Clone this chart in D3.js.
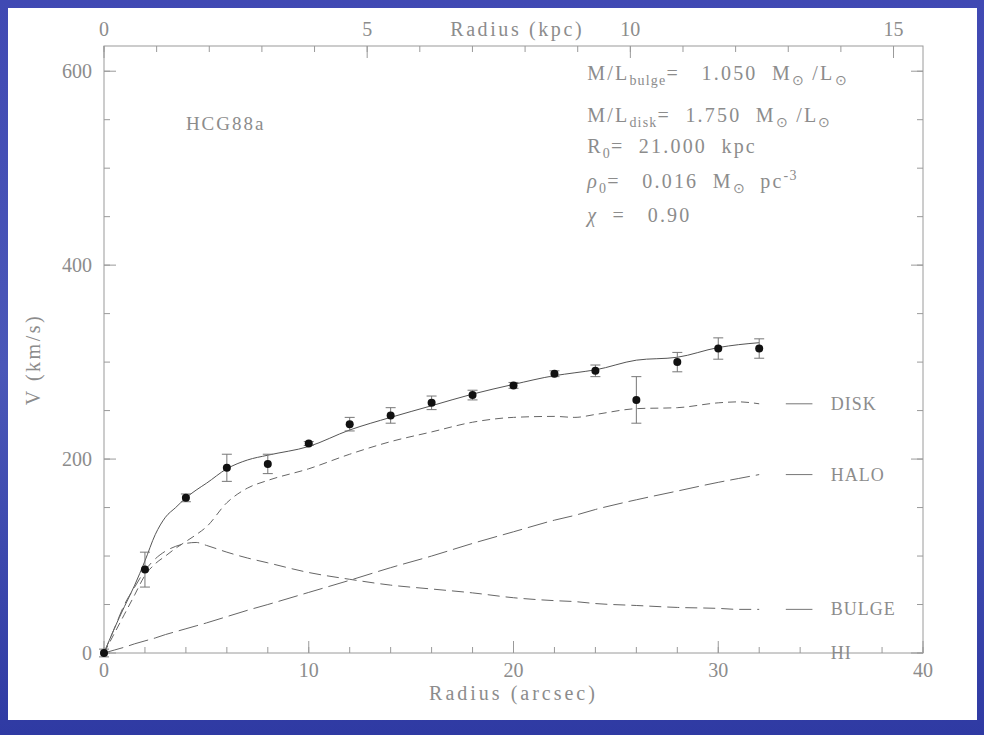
<!DOCTYPE html>
<html>
<head>
<meta charset="utf-8">
<script src="https://cdn.jsdelivr.net/npm/d3@7"></script>
<style>
  body { margin: 0; background: #3d45ab; }
  text { font-family: "Liberation Serif", serif; fill: #8c8c8c; white-space: pre; }
</style>
</head>
<body>
<div id="chart"></div>
<script>
// observed rotation curve (arcsec, km/s, error)
const obsR = [0, 2, 4, 6, 8, 10, 12, 14, 16, 18, 20, 22, 24, 26, 28, 30, 32];
const obsV = [0, 86, 160, 191, 195, 216, 236, 245, 258, 266, 276, 288, 291, 261, 300, 314, 314];
const obsErr = [4, 18, 4, 14, 10, 2, 7, 8, 7, 5, 3, 3, 6, 24, 10, 11, 10];

// model components
const modR = [0, 0.5, 1, 1.5, 2, 2.5, 3, 3.5, 4, 4.5, 5, 6, 7, 8, 10, 12, 14, 16, 18, 20, 22, 23, 24, 26, 28, 30, 31, 32];
const totalV = [0, 25, 48, 70, 95, 122, 140, 150, 160, 168, 175, 190, 199, 204, 213, 230, 243, 255, 267, 277, 286, 289, 292, 302, 305, 315, 318, 320];
const diskV  = [0, 20, 40, 60, 80, 92, 100, 108, 115, 122, 130, 155, 170, 178, 190, 205, 218, 228, 238, 243, 244, 243, 246, 252, 253, 258, 259, 257];
const bulgeV = [0, 25, 50, 68, 85, 97, 105, 110, 113, 114, 111, 104, 98, 93, 83, 76, 70, 66, 62, 57, 54, 53, 51, 49, 47, 46, 45, 45];
const haloV  = [0, 3, 6, 9.5, 12.5, 15.5, 19, 22, 25, 28, 31, 37.5, 44, 50, 62.5, 75, 88, 100, 113, 125, 137, 142, 148, 158, 167, 176, 180, 184];
const hiV    = modR.map(() => 0);

const components = [
  { name: "DISK",  values: diskV,  dash: "8,5" },
  { name: "HALO",  values: haloV,  dash: "20,6" },
  { name: "BULGE", values: bulgeV, dash: "12,6" },
  { name: "HI",    values: hiV,    dash: "none" }
];

const xTicks = [0, 10, 20, 30, 40];
const yTicks = [0, 200, 400, 600];
const kpcTicks = [0, 5, 10, 15];
const kpcPerArcsec = 0.389;

const width = 984, height = 735;
const margin = { top: 46, right: 61, bottom: 82, left: 104 };

const svg = d3.select("#chart").append("svg")
  .attr("width", width).attr("height", height);

// blue frame + white panel
const grad = svg.append("defs").append("linearGradient")
  .attr("id", "bg").attr("x1", 0).attr("y1", 0).attr("x2", 0).attr("y2", 1);
grad.append("stop").attr("offset", 0).attr("stop-color", "#4049b3");
grad.append("stop").attr("offset", 0.5).attr("stop-color", "#4a57b8");
grad.append("stop").attr("offset", 1).attr("stop-color", "#2f3aa3");
svg.append("rect").attr("width", width).attr("height", height).attr("fill", "url(#bg)");
svg.append("rect").attr("x", 8).attr("y", 8).attr("width", 969).attr("height", 712).attr("fill", "#fff");

const x = d3.scaleLinear().domain([0, 40]).range([margin.left, width - margin.right]);
const y = d3.scaleLinear().domain([0, 626]).range([height - margin.bottom, margin.top]);
const xk = d3.scaleLinear().domain([0, 40 * kpcPerArcsec]).range(x.range());

const axisCol = "#9a9a9a";
const x0 = x.range()[0], x1 = x.range()[1], y0 = y.range()[0], y1 = y.range()[1];

// frame
svg.append("rect").attr("x", x0).attr("y", y1).attr("width", x1 - x0).attr("height", y0 - y1)
  .attr("fill", "none").attr("stroke", axisCol).attr("stroke-width", 1);

// inward ticks
function ticks(vals, len, fn) {
  vals.forEach(v => {
    const t = fn(v, len);
    svg.append("line").attr("x1", t[0]).attr("y1", t[1]).attr("x2", t[2]).attr("y2", t[3])
      .attr("stroke", axisCol).attr("stroke-width", 1);
  });
}
const xMinor = d3.range(0, 41, 2), yMinor = d3.range(0, 626, 50), kMinor = d3.range(0, 16, 1);
ticks(xMinor, 6, (v, l) => [x(v), y0, x(v), y0 - l]);
ticks(xTicks, 12, (v, l) => [x(v), y0, x(v), y0 - l]);
ticks(kMinor, 6, (v, l) => [xk(v), y1, xk(v), y1 + l]);
ticks(kpcTicks, 12, (v, l) => [xk(v), y1, xk(v), y1 + l]);
ticks(yMinor, 6, (v, l) => [x0, y(v), x0 + l, y(v)]);
ticks(yTicks, 12, (v, l) => [x0, y(v), x0 + l, y(v)]);
ticks(yMinor, 6, (v, l) => [x1, y(v), x1 - l, y(v)]);
ticks(yTicks, 12, (v, l) => [x1, y(v), x1 - l, y(v)]);

// tick labels
svg.selectAll(".xl").data(xTicks).enter().append("text")
  .attr("x", d => x(d)).attr("y", y0 + 24).attr("text-anchor", "middle")
  .attr("font-size", 20).text(d => d);
svg.selectAll(".yl").data(yTicks).enter().append("text")
  .attr("x", x0 - 12).attr("y", d => y(d) + 7).attr("text-anchor", "end")
  .attr("font-size", 20).text(d => d);
svg.selectAll(".kl").data(kpcTicks).enter().append("text")
  .attr("x", d => xk(d)).attr("y", y1 - 10).attr("text-anchor", "middle")
  .attr("font-size", 20).text(d => d);

svg.append("text").attr("x", (x0 + x1) / 2).attr("y", y0 + 47).attr("text-anchor", "middle")
  .attr("font-size", 20).attr("letter-spacing", 3).text("Radius (arcsec)");
svg.append("text").attr("x", xk(7.85)).attr("y", y1 - 10).attr("text-anchor", "middle")
  .attr("font-size", 20).attr("letter-spacing", 2.6).text("Radius (kpc)");
svg.append("text").attr("transform", `translate(40,${(y0 + y1) / 2 + 10}) rotate(-90)`)
  .attr("text-anchor", "middle").attr("font-size", 20).attr("letter-spacing", 2.5).text("V (km/s)");

svg.append("text").attr("x", x(4)).attr("y", y(539)).attr("font-size", 19)
  .attr("letter-spacing", 2).text("HCG88a");

// parameter block
const ann = svg.append("g").attr("font-size", 20).attr("letter-spacing", 2.2);
function line(yy, parts) {
  const t = ann.append("text").attr("x", x(23.6)).attr("y", yy);
  parts.forEach(p => {
    const s = t.append("tspan").text(p[0]);
    if (p[1] === "sub") s.attr("font-size", 14).attr("dy", 5).attr("letter-spacing", 1.2);
    if (p[1] === "sup") s.attr("font-size", 14).attr("dy", -8).attr("letter-spacing", 1.2);
    if (p[1] === "back") s.attr("dy", -5);
    if (p[1] === "it") s.attr("font-style", "italic");
  });
}
line(y(591), [["M/L"], ["bulge", "sub"], ["=   1.050  M", "back"], ["⊙", "sub"], [" /L", "back"], ["⊙", "sub"]]);
line(y(548), [["M/L"], ["disk", "sub"], ["=  1.750  M", "back"], ["⊙", "sub"], [" /L", "back"], ["⊙", "sub"]]);
line(y(516), [["R"], ["0", "sub"], ["=  21.000  kpc", "back"]]);
line(y(480), [["ρ", "it"], ["0", "sub"], ["=   0.016  M", "back"], ["⊙", "sub"], ["  pc", "back"], ["-3", "sup"]]);
line(y(444), [["χ", "it"], ["  =   0.90"]]);

// model curves
const lineGen = vals => d3.line().x((d, i) => x(modR[i])).y(d => y(d)).curve(d3.curveMonotoneX)(vals);

svg.append("path").attr("d", lineGen(totalV)).attr("fill", "none")
  .attr("stroke", "#555").attr("stroke-width", 1);

components.forEach(c => {
  const last = c.values[c.values.length - 1];
  if (c.dash !== "none") {
    svg.append("path").attr("d", lineGen(c.values)).attr("fill", "none")
      .attr("stroke", "#666").attr("stroke-width", 1).attr("stroke-dasharray", c.dash);
    svg.append("line").attr("x1", x(33.3)).attr("x2", x(34.6))
      .attr("y1", y(last)).attr("y2", y(last))
      .attr("stroke", "#777").attr("stroke-width", 1);
  }
  svg.append("text").attr("x", x(35.5)).attr("y", y(last) + 6)
    .attr("font-size", 18).attr("letter-spacing", 1).text(c.name);
});

// observed points with error bars
const obs = obsR.map((r, i) => ({ r, v: obsV[i], e: obsErr[i] }));
const eb = svg.append("g").attr("stroke", "#777").attr("stroke-width", 1);
obs.forEach(d => {
  eb.append("line").attr("x1", x(d.r)).attr("x2", x(d.r)).attr("y1", y(d.v - d.e)).attr("y2", y(d.v + d.e));
  [d.v - d.e, d.v + d.e].forEach(v => eb.append("line")
    .attr("x1", x(d.r) - 5).attr("x2", x(d.r) + 5).attr("y1", y(v)).attr("y2", y(v)));
});
svg.selectAll(".pt").data(obs).enter().append("circle")
  .attr("cx", d => x(d.r)).attr("cy", d => y(d.v)).attr("r", 4).attr("fill", "#111");
</script>
</body>
</html>
